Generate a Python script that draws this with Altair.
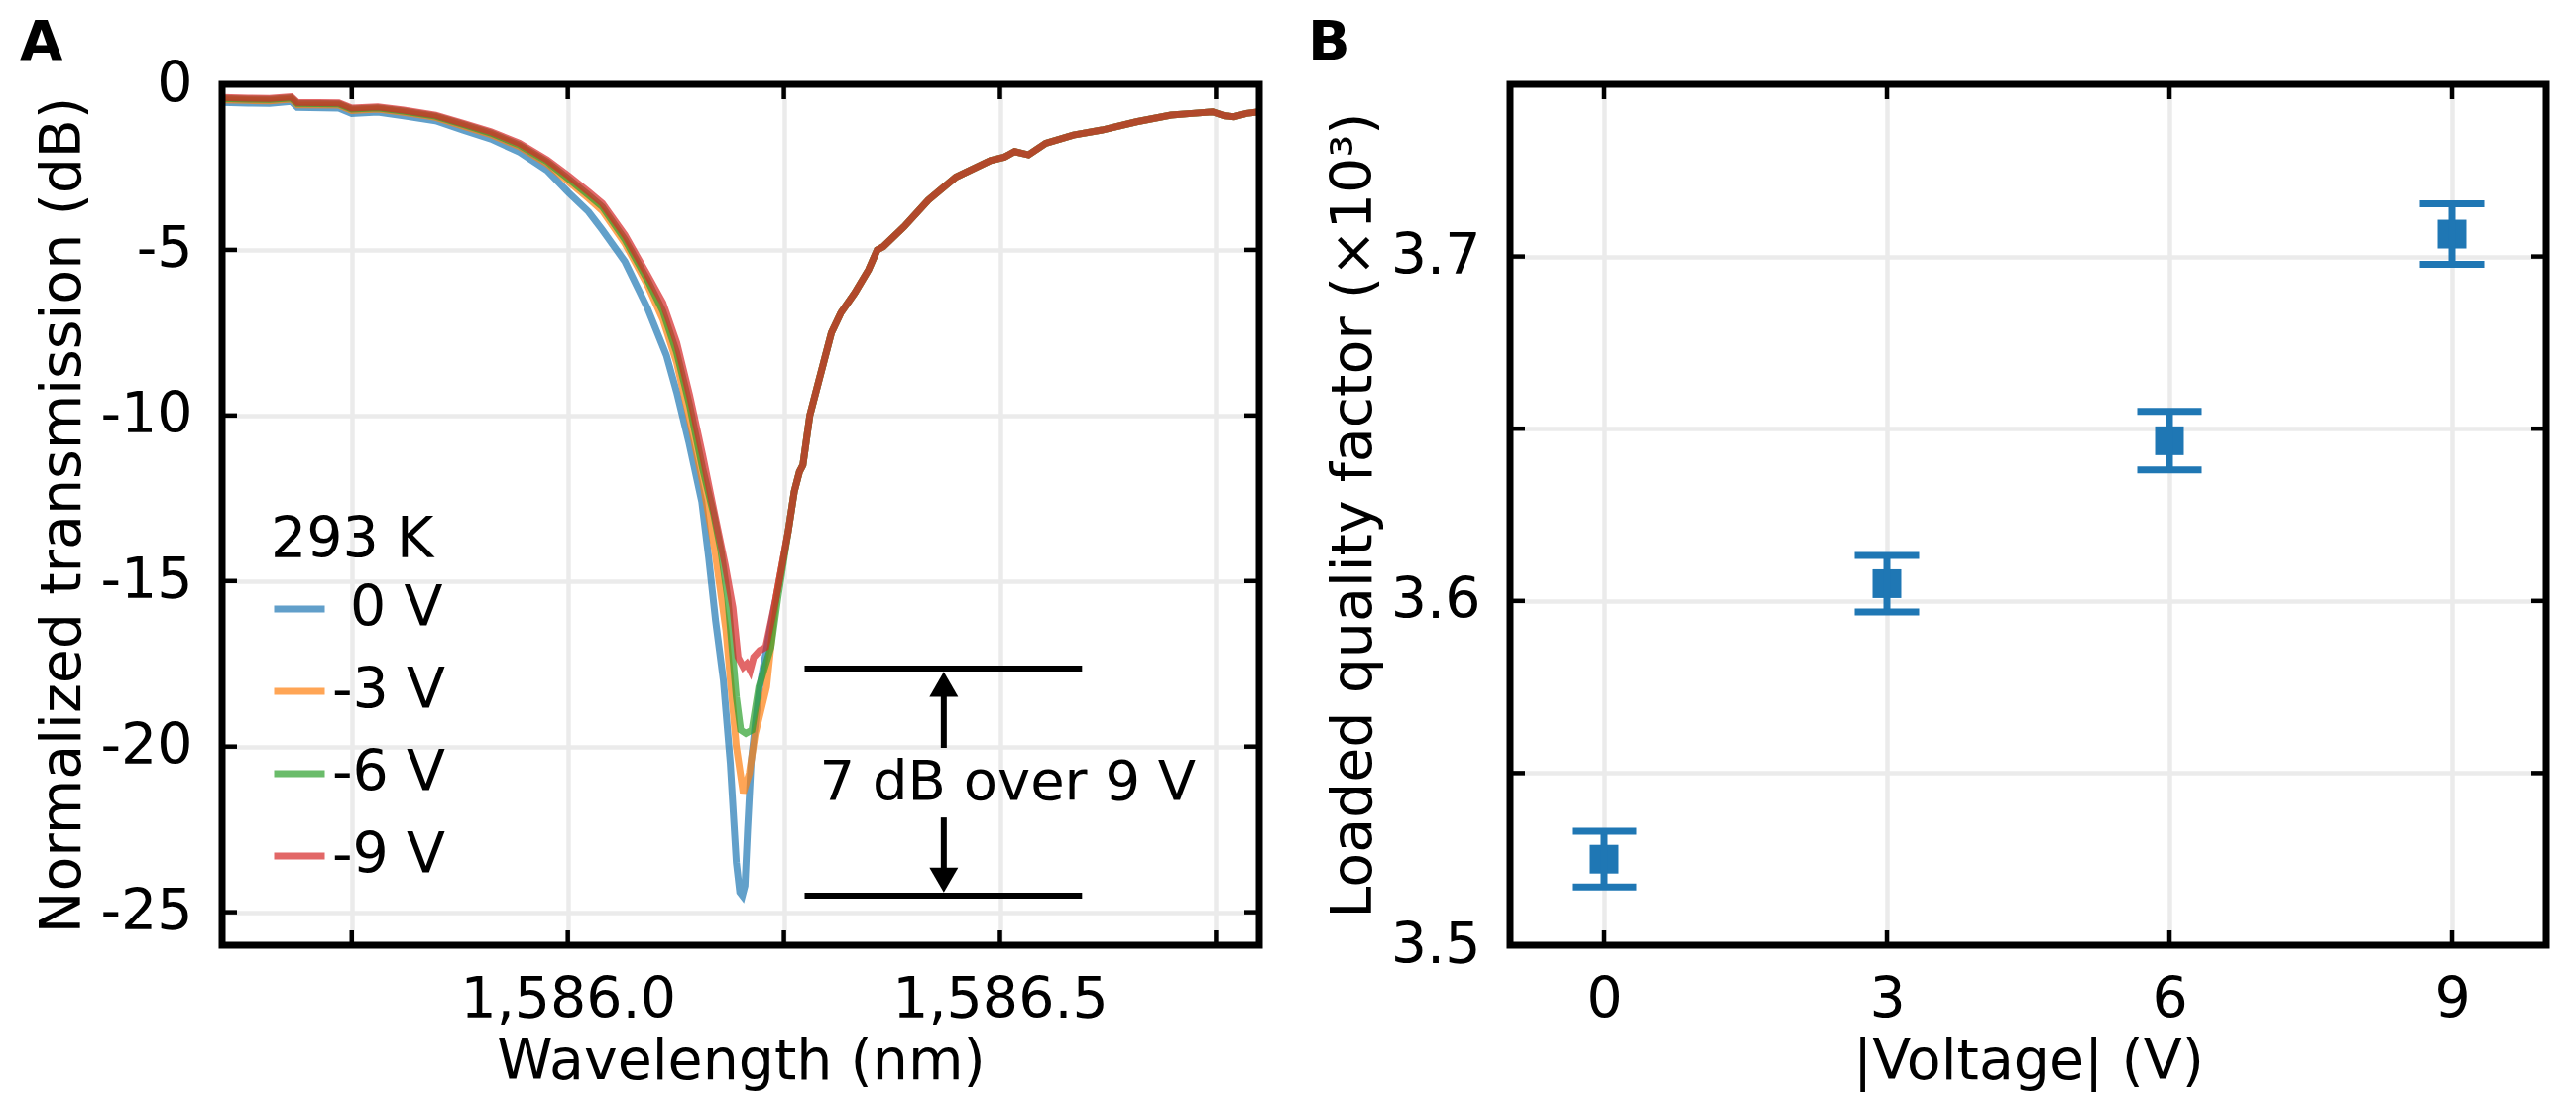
import altair as alt
import pandas as pd

# ---------------- Panel A data ----------------
series_names = ["\u200b\u00a00 V", "-3 V", "-6 V", "-9 V"]
series_colors = ["#1f77b4", "#ff7f0e", "#2ca02c", "#d62728"]

wl_0V = [1585.600, 1585.630, 1585.655, 1585.680, 1585.687, 1585.735, 1585.750, 1585.780,
         1585.810, 1585.847, 1585.879, 1585.911, 1585.944, 1585.976, 1586.000, 1586.024,
         1586.040, 1586.066, 1586.092, 1586.114, 1586.126, 1586.140, 1586.155, 1586.163,
         1586.171, 1586.180, 1586.188, 1586.195, 1586.199, 1586.202, 1586.205, 1586.208,
         1586.212, 1586.217, 1586.222, 1586.229, 1586.241, 1586.255]
tr_0V = [-0.55, -0.57, -0.58, -0.52, -0.70, -0.72, -0.88, -0.84,
         -0.95, -1.10, -1.38, -1.65, -2.05, -2.60, -3.25, -3.85,
         -4.40, -5.35, -6.75, -8.18, -9.30, -10.8, -12.6, -14.3,
         -16.2, -18.0, -20.5, -23.5, -24.4, -24.5, -24.2, -22.5,
         -20.5, -19.3, -18.2, -17.2, -15.5, -13.5]

wl_3V = [1585.600, 1585.630, 1585.655, 1585.680, 1585.687, 1585.735, 1585.750, 1585.780,
         1585.810, 1585.847, 1585.879, 1585.911, 1585.944, 1585.976, 1586.000, 1586.024,
         1586.040, 1586.066, 1586.092, 1586.110, 1586.126, 1586.140, 1586.156, 1586.170,
         1586.183, 1586.195, 1586.203, 1586.210, 1586.217, 1586.230, 1586.241, 1586.255]
tr_3V = [-0.47, -0.49, -0.50, -0.45, -0.62, -0.63, -0.79, -0.75,
         -0.85, -1.00, -1.26, -1.52, -1.88, -2.40, -2.92, -3.45,
         -3.82, -4.80, -6.05, -7.10, -8.40, -10.0, -12.0, -14.05,
         -16.5, -20.0, -21.4, -20.8, -19.6, -18.2, -15.5, -13.5]

wl_6V = [1585.600, 1585.630, 1585.655, 1585.680, 1585.687, 1585.735, 1585.750, 1585.780,
         1585.810, 1585.847, 1585.879, 1585.911, 1585.944, 1585.976, 1586.000, 1586.024,
         1586.040, 1586.066, 1586.092, 1586.110, 1586.126, 1586.141, 1586.156, 1586.169,
         1586.177, 1586.185, 1586.195, 1586.200, 1586.206, 1586.213, 1586.221, 1586.235,
         1586.243, 1586.255]
tr_6V = [-0.43, -0.45, -0.46, -0.41, -0.58, -0.59, -0.75, -0.71,
         -0.81, -0.96, -1.21, -1.47, -1.83, -2.34, -2.84, -3.35,
         -3.70, -4.68, -5.90, -6.85, -8.10, -9.70, -11.6, -13.0,
         -14.05, -15.5, -18.5, -19.5, -19.6, -19.5, -18.2, -17.0,
         -15.5, -13.5]

wl_9V = [1585.600, 1585.630, 1585.655, 1585.680, 1585.687, 1585.735, 1585.750, 1585.780,
         1585.810, 1585.847, 1585.879, 1585.911, 1585.944, 1585.976, 1586.000, 1586.024,
         1586.040, 1586.066, 1586.092, 1586.110, 1586.126, 1586.141, 1586.156, 1586.170,
         1586.182, 1586.191, 1586.197, 1586.203, 1586.207, 1586.211, 1586.215, 1586.222,
         1586.229, 1586.241, 1586.255]
tr_9V = [-0.40, -0.42, -0.43, -0.38, -0.55, -0.56, -0.72, -0.68,
         -0.78, -0.93, -1.18, -1.43, -1.78, -2.28, -2.75, -3.25,
         -3.60, -4.55, -5.75, -6.60, -7.80, -9.40, -11.2, -13.0,
         -14.5, -15.8, -17.3, -17.6, -17.5, -17.7, -17.3, -17.1,
         -17.0, -15.5, -13.5]

# right flank, where all four traces overlap
wl_right = [1586.262, 1586.268, 1586.272, 1586.280, 1586.290, 1586.296, 1586.305, 1586.316,
            1586.332, 1586.348, 1586.358, 1586.365, 1586.389, 1586.417, 1586.449, 1586.489,
            1586.505, 1586.517, 1586.533, 1586.553, 1586.585, 1586.618, 1586.658, 1586.698,
            1586.722, 1586.746, 1586.760, 1586.771, 1586.785, 1586.800]
tr_right = [-12.3, -11.7, -11.5, -10.0, -9.0, -8.4, -7.5, -6.9,
            -6.3, -5.6, -5.0, -4.9, -4.3, -3.5, -2.8, -2.3,
            -2.2, -2.03, -2.13, -1.78, -1.53, -1.38, -1.13, -0.93,
            -0.88, -0.83, -0.95, -0.98, -0.88, -0.83]

xA_ticks = [1585.75, 1586.0, 1586.25, 1586.5, 1586.75]
yA_ticks = [0, -5, -10, -15, -20, -25]

# annotation
ann_levels = [-17.64, -24.5]
ann_x_range = [1586.274, 1586.595]
arrow_x = 1586.435
arrow_shaft_from = [-20.04, -22.14]
arrow_tip_center = [-18.12, -24.03]
arrow_dir = ["up", "down"]
ann_text = "7 dB over 9 V"
ann_text_pos = [1586.509, -21.1]

# ---------------- Panel B data ----------------
voltage = [0, 3, 6, 9]
q_loaded = [3.525, 3.605, 3.6465, 3.7065]
q_err = [0.0081, 0.0082, 0.0085, 0.0088]
xB_ticks = [0, 3, 6, 9]
yB_ticks = [3.5, 3.55, 3.6, 3.65, 3.7]

# ---------------- geometry / style ----------------
WA, WB, H = 1046, 1045, 868
FS = 57
TICK_LEN, TICK_W = 15, 4.5
FRAME_W = 7
BLUE = "#1f77b4"

rows = []
for name, wl, tr in zip(series_names, [wl_0V, wl_3V, wl_6V, wl_9V], [tr_0V, tr_3V, tr_6V, tr_9V]):
    for i, (a, b) in enumerate(zip(wl + wl_right, tr + tr_right)):
        rows.append({"series": name, "wl": a, "tr": b, "i": i})
df_lines = pd.DataFrame(rows)


def inner_ticks(xvals, yvals, xscale, yscale, W):
    dx = pd.DataFrame({"v": xvals})
    dy = pd.DataFrame({"v": yvals})
    m = dict(color="black", strokeWidth=TICK_W)
    bot = alt.Chart(dx).mark_rule(**m).encode(
        x=alt.X("v:Q", scale=xscale), y=alt.value(H), y2=alt.value(H - TICK_LEN))
    top = alt.Chart(dx).mark_rule(**m).encode(
        x=alt.X("v:Q", scale=xscale), y=alt.value(0), y2=alt.value(TICK_LEN))
    lef = alt.Chart(dy).mark_rule(**m).encode(
        y=alt.Y("v:Q", scale=yscale), x=alt.value(0), x2=alt.value(TICK_LEN))
    rig = alt.Chart(dy).mark_rule(**m).encode(
        y=alt.Y("v:Q", scale=yscale), x=alt.value(W), x2=alt.value(W - TICK_LEN))
    return [bot, top, lef, rig]


def frame(W):
    return alt.Chart(pd.DataFrame({"a": [0]})).mark_rect(
        fillOpacity=0, stroke="black", strokeWidth=FRAME_W).encode(
        x=alt.value(0), x2=alt.value(W), y=alt.value(0), y2=alt.value(H))


def panel_label(t):
    return alt.Chart(pd.DataFrame({"t": [t]})).mark_text(
        align="left", baseline="alphabetic", fontSize=56, fontWeight="bold",
        color="black").encode(text="t:N", x=alt.value(-204), y=alt.value(-25))


# ---------------- Panel A ----------------
xA = alt.Scale(domain=[1585.6, 1586.8], nice=False, zero=False)
yA = alt.Scale(domain=[-26, 0], nice=False, zero=False)

lines = alt.Chart(df_lines).mark_line(strokeWidth=7, opacity=0.7, clip=True).encode(
    x=alt.X("wl:Q", scale=xA, axis=alt.Axis(
        title="Wavelength (nm)", values=xA_ticks,
        labelExpr="datum.value == 1586 || datum.value == 1586.5 ? format(datum.value, ',.1f') : ''")),
    y=alt.Y("tr:Q", scale=yA, axis=alt.Axis(
        title="Normalized transmission (dB)", values=yA_ticks, labelExpr="'' + datum.value")),
    color=alt.Color("series:N", scale=alt.Scale(domain=series_names, range=series_colors),
                    legend=alt.Legend(title="293 K", orient="none", legendX=49, legendY=432,
                                      symbolType="stroke", symbolSize=2601, symbolStrokeWidth=7,
                                      symbolOpacity=0.7, labelFontSize=FS, titleFontSize=FS,
                                      titleFontWeight="normal", titleColor="black",
                                      labelColor="black", rowPadding=26, labelOffset=4,
                                      padding=0, titlePadding=11, labelFont="DejaVu Sans",
                                      titleFont="DejaVu Sans", labelLimit=400)),
    order="i:Q",
)

df_ann = pd.DataFrame({"y": ann_levels, "x1": [ann_x_range[0]] * 2, "x2": [ann_x_range[1]] * 2})
ann_rules = alt.Chart(df_ann).mark_rule(color="black", strokeWidth=6).encode(
    x=alt.X("x1:Q", scale=xA), x2="x2:Q", y=alt.Y("y:Q", scale=yA))

df_arrow = pd.DataFrame({"x": [arrow_x] * 2, "y1": arrow_shaft_from, "y2": arrow_tip_center,
                         "dir": arrow_dir})
shafts = alt.Chart(df_arrow).mark_rule(color="black", strokeWidth=6).encode(
    x=alt.X("x:Q", scale=xA), y=alt.Y("y1:Q", scale=yA), y2="y2:Q")
heads = alt.Chart(df_arrow).mark_point(filled=True, size=841, color="black", opacity=1).encode(
    x=alt.X("x:Q", scale=xA), y=alt.Y("y2:Q", scale=yA),
    shape=alt.Shape("dir:N", scale=alt.Scale(domain=["up", "down"],
                                             range=["triangle-up", "triangle-down"]), legend=None))
df_txt = pd.DataFrame({"x": [ann_text_pos[0]], "y": [ann_text_pos[1]], "t": [ann_text]})
txt = alt.Chart(df_txt).mark_text(fontSize=56, color="black", align="center", baseline="middle").encode(
    x=alt.X("x:Q", scale=xA), y=alt.Y("y:Q", scale=yA), text="t:N")

panelA = alt.layer(
    lines, ann_rules, shafts, heads, txt,
    *inner_ticks(xA_ticks, yA_ticks, xA, yA, WA), frame(WA), panel_label("A")
).properties(width=WA, height=H)

# ---------------- Panel B ----------------
xB = alt.Scale(domain=[-1, 10], nice=False, zero=False)
yB = alt.Scale(domain=[3.5, 3.75], nice=False, zero=False)
df_b = pd.DataFrame({"v": voltage, "q": q_loaded,
                     "lo": [a - b for a, b in zip(q_loaded, q_err)],
                     "hi": [a + b for a, b in zip(q_loaded, q_err)]})

sq = alt.Chart(df_b).mark_square(size=840, color=BLUE, opacity=1).encode(
    x=alt.X("v:Q", scale=xB, axis=alt.Axis(title="|Voltage| (V)", values=xB_ticks,
                                             labelExpr="'' + datum.value")),
    y=alt.Y("q:Q", scale=yB, axis=alt.Axis(
        title="Loaded quality factor (\u00d710\u00b3)", values=yB_ticks,
        labelExpr="abs(datum.value * 10 - round(datum.value * 10)) < 0.01 ? format(datum.value, '.1f') : ''")),
)
ebar = alt.Chart(df_b).mark_rule(color=BLUE, strokeWidth=7).encode(
    x=alt.X("v:Q", scale=xB), y=alt.Y("lo:Q", scale=yB), y2="hi:Q")
cap_lo = alt.Chart(df_b).mark_tick(orient="horizontal", size=65, thickness=7, color=BLUE, opacity=1).encode(
    x=alt.X("v:Q", scale=xB), y=alt.Y("lo:Q", scale=yB))
cap_hi = alt.Chart(df_b).mark_tick(orient="horizontal", size=65, thickness=7, color=BLUE, opacity=1).encode(
    x=alt.X("v:Q", scale=xB), y=alt.Y("hi:Q", scale=yB))

panelB = alt.layer(
    sq, ebar, cap_lo, cap_hi,
    *inner_ticks(xB_ticks, yB_ticks, xB, yB, WB), frame(WB), panel_label("B")
).properties(width=WB, height=H)

chart = alt.hconcat(panelA, panelB, spacing=253, bounds="flush").properties(
    padding={"left": 12, "top": 7, "right": 5, "bottom": 3}
).configure(font="DejaVu Sans").configure_view(strokeWidth=0).configure_axis(
    labelFontSize=FS, titleFontSize=FS, titleFontWeight="normal", labelColor="black",
    titleColor="black", labelFont="DejaVu Sans", titleFont="DejaVu Sans",
    domain=False, ticks=False, tickSize=0, grid=True, gridColor="#ebebeb", gridWidth=4.5,
    labelFlush=False, labelOverlap=False, labelBound=False, labelPadding=30, labelLimit=500,
    titleLimit=2000,
).configure_axisX(titlePadding=6, labelPadding=27).configure_axisY(titlePadding=8)

chart.save("out.html", embed_options={"renderer": "svg", "actions": False})
